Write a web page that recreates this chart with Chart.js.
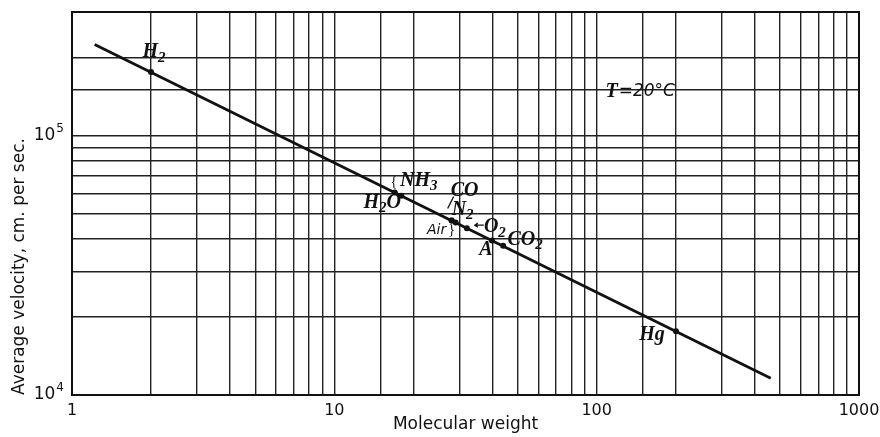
<!DOCTYPE html>
<html>
<head>
<title>Average velocity of gas molecules vs molecular weight</title>
<script src="https://cdn.jsdelivr.net/npm/chart.js@4.4.0/dist/chart.umd.min.js"></script>
<style>body{margin:0;background:#fff}</style>
</head>
<body>
<canvas id="myChart" width="880" height="437"></canvas>
<script>
// gases marked on the line (molecular weight, average velocity cm/s at 20 C)
const gases = ['H2', 'NH3', 'H2O', 'CO', 'N2', 'Air', 'O2', 'A', 'CO2', 'Hg']
const molWeights = [2, 17, 18, 28, 28, 29, 32, 39.9, 44, 200.6]
const velocities = [176000, 60400, 58700, 47100, 47100, 46300, 44000, 39400, 37600, 17600]

// ends of the drawn line
const lineX = [1.22, 461]
const lineY = [225000, 11600]

const xTickValues = [1, 10, 100, 1000]
const xTickLabels = ['1', '10', '100', '1000']
const yTickValues = [1e4, 1e5]
const yTickExp = ['4', '5']

const sans = '"DejaVu Sans", sans-serif'
const serif = '"Liberation Serif", serif'

function pickLabel(v, vals, labels) {
  for (let i = 0; i < vals.length; i++) {
    if (Math.abs(Math.log10(v) - Math.log10(vals[i])) < 1e-6) return labels[i]
  }
  return ''
}

// draws a formula like CO2 with the digits as subscripts, centred at (cx, cy)
function drawFormula(ctx, text, cx, cy, size, family, style) {
  const parts = text.match(/[0-9]+|[^0-9]+/g)
  const big = style + ' ' + size + 'px ' + family
  const small = style + ' ' + Math.round(size * 0.75) + 'px ' + family
  let w = 0
  parts.forEach(p => {
    ctx.font = /[0-9]/.test(p) ? small : big
    w += ctx.measureText(p).width
  })
  let x0 = cx - w / 2
  ctx.textAlign = 'left'
  ctx.textBaseline = 'middle'
  parts.forEach(p => {
    const sub = /[0-9]/.test(p)
    ctx.font = sub ? small : big
    ctx.fillText(p, x0, sub ? cy + size * 0.28 : cy)
    x0 += ctx.measureText(p).width
  })
}

const gasLabels = {
  id: 'gasLabels',
  afterDatasetsDraw(chart, args, opts) {
    const { ctx, scales: { x, y } } = chart
    ctx.save()
    ctx.fillStyle = '#111'
    ctx.strokeStyle = '#111'
    const pts = gases.map((g, i) => [x.getPixelForValue(molWeights[i]), y.getPixelForValue(velocities[i])])
    gases.forEach((g, i) => {
      const [dx, dy] = opts.offsets[i]
      if (g === 'Air') {
        drawFormula(ctx, g, pts[i][0] + dx, pts[i][1] + dy, 14, sans, 'italic')
      } else {
        drawFormula(ctx, g, pts[i][0] + dx, pts[i][1] + dy, 20, serif, 'italic bold')
      }
    })
    // little brace before NH3 and after Air
    ctx.font = '14px ' + serif
    ctx.textAlign = 'center'
    ctx.fillText('{', pts[1][0] - 1, pts[1][1] - 10)
    ctx.fillText('}', pts[5][0] - 4, pts[5][1] + 8)
    // leader from CO to its point
    ctx.lineWidth = 1.3
    ctx.beginPath()
    ctx.moveTo(pts[3][0] - 4, pts[3][1] - 12)
    ctx.lineTo(pts[3][0] + 2, pts[3][1] - 24)
    ctx.stroke()
    // arrow from O2 to its point
    const ax = pts[6][0] + 8, ay = pts[6][1] - 3
    ctx.beginPath()
    ctx.moveTo(ax + 9, ay)
    ctx.lineTo(ax, ay)
    ctx.moveTo(ax + 3, ay - 2)
    ctx.lineTo(ax, ay)
    ctx.lineTo(ax + 3, ay + 2)
    ctx.stroke()

    // temperature note
    const tx = x.getPixelForValue(opts.note.x), ty = y.getPixelForValue(opts.note.y)
    ctx.textAlign = 'left'
    ctx.textBaseline = 'middle'
    ctx.font = 'italic bold 20px ' + serif
    ctx.fillText('T', tx, ty)
    const tw = ctx.measureText('T').width
    ctx.font = 'italic 17px ' + sans
    ctx.fillText('=20°C', tx + tw + 1, ty)

    // y tick labels 10^4, 10^5 with raised exponent
    yTickValues.forEach((v, i) => {
      const py = y.getPixelForValue(v)
      const right = chart.chartArea.left - 8
      ctx.textAlign = 'right'
      ctx.font = '12px ' + sans
      const ew = ctx.measureText(yTickExp[i]).width
      ctx.fillText(yTickExp[i], right, py - 7)
      ctx.font = '17px ' + sans
      ctx.fillText('10', right - ew - 1, py)
    })

    // frame
    const a = chart.chartArea
    ctx.lineWidth = 2
    ctx.strokeRect(a.left, a.top, a.right - a.left, a.bottom - a.top)
    ctx.restore()
  },
}

const ctx = document.getElementById('myChart').getContext('2d')
const myChart = new Chart(ctx, {
  data: {
    datasets: [
      {
        type: 'line',
        data: lineX.map((v, i) => ({ x: v, y: lineY[i] })),
        borderColor: '#111',
        borderWidth: 2.8,
        pointRadius: 0,
      },
      {
        type: 'scatter',
        data: molWeights.map((v, i) => ({ x: v, y: velocities[i] })),
        pointRadius: 3,
        pointBackgroundColor: '#111',
        pointBorderWidth: 0,
      },
    ],
  },
  options: {
    responsive: false,
    animation: false,
    layout: { padding: { top: 12, right: 21, left: 0, bottom: 0 } },
    scales: {
      x: {
        type: 'logarithmic',
        min: 1,
        max: 1000,
        afterFit(scale) {
          scale.height = 42
          scale.paddingLeft = 0
          scale.paddingRight = 0
        },
        grid: { color: '#222', lineWidth: 1.4, drawTicks: false },
        border: { color: '#111', width: 2 },
        ticks: {
          autoSkip: false,
          maxRotation: 0,
          padding: 6,
          color: '#111',
          font: { family: sans, size: 16 },
          callback: v => pickLabel(v, xTickValues, xTickLabels),
        },
        title: {
          display: true,
          text: 'Molecular weight',
          color: '#111',
          font: { family: sans, size: 17 },
          padding: { top: 0, bottom: 2 },
        },
      },
      y: {
        type: 'logarithmic',
        min: 1e4,
        max: 3e5,
        afterFit(scale) { scale.width = 72 },
        grid: { color: '#222', lineWidth: 1.4, drawTicks: false },
        border: { color: '#111', width: 2 },
        ticks: {
          autoSkip: false,
          color: '#111',
          callback: () => '',
        },
        title: {
          display: true,
          text: 'Average velocity, cm. per sec.',
          align: 'start',
          color: '#111',
          font: { family: sans, size: 17 },
          padding: { top: 9, bottom: 0 },
        },
      },
    },
    plugins: {
      legend: { display: false },
      tooltip: { enabled: false },
      gasLabels: {
        offsets: [[3, -20], [24, -12], [-19, 7], [13, -30], [11, -11], [-19, 8], [28, -1], [-6, 9], [22, -6], [-24, 3]],
        note: { x: 108, y: 148000 },
      },
    },
  },
  plugins: [gasLabels],
})
</script>
</body>
</html>
